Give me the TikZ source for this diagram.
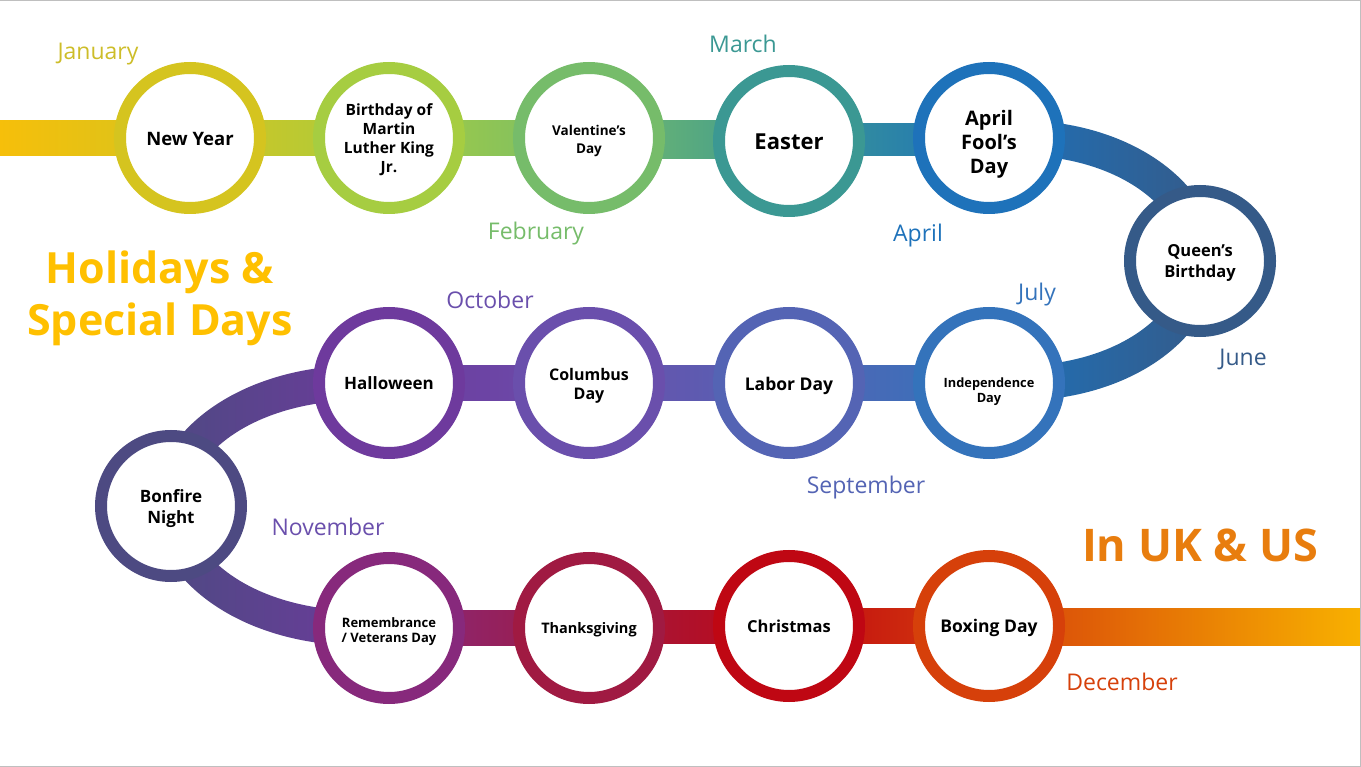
\documentclass[tikz,border=0pt]{standalone}
\usepackage{fontspec}
\setmainfont{Open Sans}
\usetikzlibrary{backgrounds}
\definecolor{cStart}{HTML}{F6BF0A}
\definecolor{cEnd}{HTML}{F8B100}
\definecolor{cNY}{HTML}{D5C41F}
\definecolor{cMLK}{HTML}{A6CD41}
\definecolor{cVal}{HTML}{76BC6A}
\definecolor{cEas}{HTML}{3B9893}
\definecolor{cAF}{HTML}{1E72BA}
\definecolor{cQB}{HTML}{355A88}
\definecolor{cInd}{HTML}{3473BB}
\definecolor{cLab}{HTML}{5464B4}
\definecolor{cCol}{HTML}{6A4FAC}
\definecolor{cHal}{HTML}{6E3A9D}
\definecolor{cBon}{HTML}{4D4A82}
\definecolor{cRem}{HTML}{87297C}
\definecolor{cTha}{HTML}{A01A42}
\definecolor{cChr}{HTML}{BF0713}
\definecolor{cBox}{HTML}{D6400A}
\definecolor{cTitle}{HTML}{FFC000}
\definecolor{cUKUS}{HTML}{E87D0E}
\begin{document}
\begin{tikzpicture}[x=1pt,y=-1pt,
 ring/.style={circle,draw=#1,line width=12pt,fill=white,minimum size=140pt,inner sep=0pt},
 daytext/.style={align=center,inner sep=0pt},
 month/.style={text=#1,font=\fontsize{23}{26}\selectfont},
 bigtitle/.style={text=#1,align=center,font=\bfseries\fontsize{43}{52}\selectfont}]
\useasboundingbox (0,0) rectangle (1361,767);
\draw[black!25,line width=1.5pt] (0,.75)--(1360.25,.75)--(1360.25,766.25)--(0,766.25);
% the days
\foreach \n/\x/\y/\c/\d/\s/\b/\t in {newyear/190/138/cNY/1/18.5/22/New Year,
 mlk/389/138/cMLK/2/15.5/19/{Birthday of\\Martin\\Luther King\\Jr.},
 valentine/589/138/cVal/3/13.5/18/{Valentine’s\\Day},
 easter/789/141/cEas/1/22/26/Easter,
 aprilfool/989/138/cAF/6/20/24/{April\\Fool’s\\Day},
 queen/1200/261/cQB/2/16.5/21/{Queen’s\\Birthday},
 independence/989/383/cInd/9/12.8/15/{Independence\\Day},
 labor/789/383/cLab/3/17.5/21/Labor Day,
 columbus/589/383/cCol/3/16/19/{Columbus\\Day},
 halloween/389/383/cHal/0/17/21/Halloween,
 bonfire/171/506/cBon/3/17/21/{Bonfire\\Night},
 remembrance/389/628/cRem/4/13/15/{Remembrance\\{/} Veterans Day},
 thanksgiving/589/628/cTha/2/14.5/18/Thanksgiving,
 christmas/789/626/cChr/0/16.5/20/Christmas,
 boxing/989/626/cBox/2/17.5/21/Boxing Day}{
 \node[ring=\c] (\n) at (\x,\y) {};
 \node[daytext,font=\bfseries\fontsize{\s}{\b}\selectfont] (\n-txt) at ([yshift=-\d pt]\n.center) {\t};
}
\coordinate (start) at (0,138);
\coordinate (finish) at (1361,628);
% the band behind them
\begin{scope}[on background layer]
\foreach \a/\b/\ca/\cb in {start/newyear/cStart/cNY,newyear/mlk/cNY/cMLK,mlk/valentine/cMLK/cVal,
 valentine/easter/cVal/cEas,easter/aprilfool/cEas/cAF,halloween/columbus/cHal/cCol,
 columbus/labor/cCol/cLab,labor/independence/cLab/cInd,remembrance/thanksgiving/cRem/cTha,
 thanksgiving/christmas/cTha/cChr,christmas/boxing/cChr/cBox,boxing/finish/cBox/cEnd}{
 \shade[left color=\ca,right color=\cb] ([yshift=17.5pt]\a.center) rectangle ([yshift=-17.5pt]\b.center);
}
\shade[left color=cAF,right color=cQB] ([yshift=17.5pt]aprilfool.center) -- ++(31,0)
 arc[start angle=-90,end angle=90,x radius=197.5,y radius=140]
 -- ([yshift=-17.5pt]independence.center) -- ([yshift=17.5pt]independence.center) -- ++(31,0)
 arc[start angle=90,end angle=-90,x radius=162.5,y radius=105]
 -- ([yshift=-17.5pt]aprilfool.center) -- cycle;
\shade[left color=cBon,right color=cHal] ([yshift=17.5pt]halloween.center) -- ++(-31,0)
 arc[start angle=-90,end angle=-270,x radius=204.5,y radius=140]
 -- ([yshift=-17.5pt]remembrance.center) -- ([yshift=17.5pt]remembrance.center) -- ++(-31,0)
 arc[start angle=-270,end angle=-90,x radius=169.5,y radius=105]
 -- ([yshift=-17.5pt]halloween.center) -- cycle;
\end{scope}
% months
\foreach \n/\x/\y/\c/\t in {jan/98/54/cNY!90!gray/January,feb/536/234/cVal/February,mar/743/44/cEas/March,
 apr/918/236/cAF/April,jun/1243/359/cQB/June,jul/1037/295/cInd/July,sep/866/488/cLab/September,
 oct/490/300/cCol/October,nov/328/527/cCol/November,dec/1122/682/cBox/December}{
 \node[month=\c] (\n) at (\x,\y) {\t};
}
\node[bigtitle=cTitle] (title) at (160,298) {Holidays \&\\Special Days};
\node[bigtitle=cUKUS,font=\bfseries\fontsize{45}{52}\selectfont] (ukus) at (1200,545) {In UK \& US};
\end{tikzpicture}
\end{document}
